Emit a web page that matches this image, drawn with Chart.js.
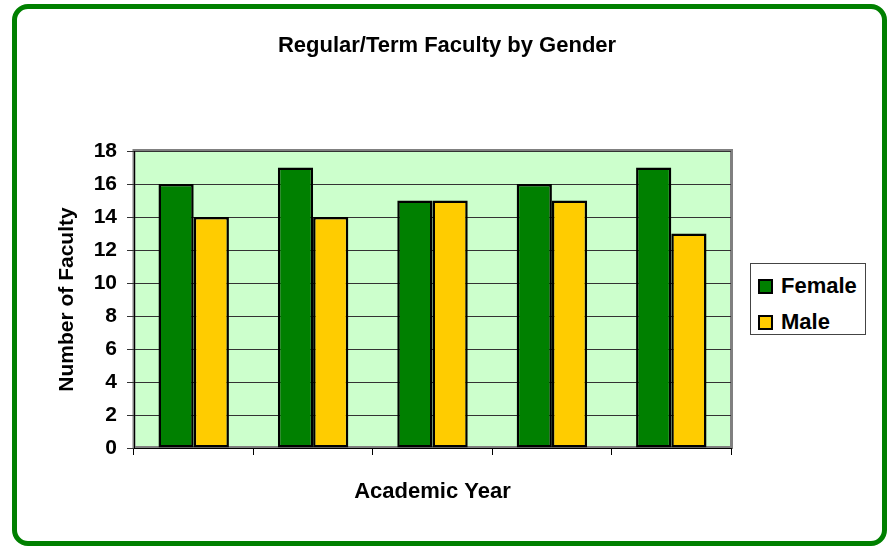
<!DOCTYPE html>
<html>
<head>
<meta charset="utf-8">
<script src="https://cdn.jsdelivr.net/npm/chart.js@4/dist/chart.umd.min.js"></script>
<style>
  html, body { margin: 0; padding: 0; background: #fff; }
  #wrap { position: relative; width: 888px; height: 548px; overflow: hidden; }
  #frame { position: absolute; left: 12px; top: 4px; width: 875px; height: 542px; box-sizing: border-box;
           border: 5px solid #008000; border-radius: 16px; }
  canvas { position: absolute; left: 0; top: 0; }
  #legend { position: absolute; left: 750px; top: 263px; width: 116px; height: 72px; box-sizing: border-box;
            border: 1px solid #444; background: #fff; font: bold 22px "Liberation Sans", Arial, sans-serif; color: #000; }
  .item { position: absolute; left: 7px; height: 24px; line-height: 24px; white-space: nowrap; }
  .sw { position: absolute; left: 0; top: 5px; width: 15px; height: 15px; box-sizing: border-box; border: 2px solid #000; }
  .lbl { position: absolute; left: 23px; top: 0; }
</style>
</head>
<body>
<div id="wrap">
  <div id="frame"></div>
  <canvas id="c" width="888" height="548"></canvas>
  <div id="legend"></div>
</div>
<script>
const chartTitle = 'Regular/Term Faculty by Gender';
const categories = ['Year 1', 'Year 2', 'Year 3', 'Year 4', 'Year 5'];
const seriesNames = ['Female', 'Male'];
const femaleValues = [16, 17, 15, 16, 17];
const maleValues = [14, 14, 15, 15, 13];
const seriesColors = ['#008000', '#FFCC00'];
const yTicks = [0, 2, 4, 6, 8, 10, 12, 14, 16, 18];

const FONT = '"Liberation Sans", Arial, sans-serif';

const plotBg = {
  id: 'plotBg',
  beforeDraw(chart) {
    const { ctx, chartArea: a } = chart;
    ctx.save();
    ctx.fillStyle = '#CCFFCC';
    ctx.fillRect(a.left, a.top, a.right - a.left, a.bottom - a.top);
    ctx.strokeStyle = '#808080';
    ctx.lineWidth = 3;
    ctx.strokeRect(a.left, a.top - 0.5, a.right - a.left + 0.5, a.bottom - a.top);
    ctx.restore();
  },
  afterDraw(chart) {
    const { ctx } = chart;
    ctx.save();
    ctx.fillStyle = '#000';
    ctx.font = 'bold 22px ' + FONT;
    ctx.textAlign = 'center';
    ctx.textBaseline = 'middle';
    ctx.fillText(chartTitle, 447, 46);
    ctx.restore();
  }
};

new Chart(document.getElementById('c'), {
  type: 'bar',
  data: {
    labels: categories,
    datasets: [
      { label: seriesNames[0], data: femaleValues, backgroundColor: seriesColors[0] },
      { label: seriesNames[1], data: maleValues, backgroundColor: seriesColors[1] }
    ].map(d => Object.assign(d, { borderColor: '#000', borderWidth: 2.5, borderSkipped: false,
                                  categoryPercentage: 0.59, barPercentage: 1.0 }))
  },
  options: {
    responsive: false,
    animation: false,
    devicePixelRatio: 1,
    layout: { padding: { left: 0, right: 157, top: 151, bottom: 0 } },
    plugins: {
      legend: { display: false },
      tooltip: { enabled: false },
      title: { display: false }
    },
    scales: {
      x: {
        offset: true,
        grid: { offset: true, drawOnChartArea: false, drawTicks: true, tickLength: 7, color: '#000' },
        border: { color: '#000', width: 1 },
        ticks: { display: false },
        title: {
          display: true, text: 'Academic Year', color: '#000',
          font: { family: FONT, size: 22, weight: 'bold', lineHeight: 1.2 },
          padding: { top: 0, bottom: 43 }
        },
        afterFit(s) { s.height = 100; }
      },
      y: {
        min: 0, max: 18,
        afterBuildTicks(s) { s.ticks = yTicks.map(v => ({ value: v })); },
        grid: { color: '#333', tickLength: 7, lineWidth: 1 },
        border: { color: '#000', width: 1 },
        ticks: { color: '#000', padding: 10, font: { family: FONT, size: 21, weight: 'bold' } },
        title: {
          display: true, text: 'Number of Faculty', color: '#000',
          font: { family: FONT, size: 21, weight: 'bold', lineHeight: 1.2 },
          padding: { top: 55, bottom: 0 }
        },
        afterFit(s) { s.width = 134; }
      }
    }
  },
  plugins: [plotBg]
});

const legend = document.getElementById('legend');
seriesNames.forEach((name, i) => {
  const it = document.createElement('div');
  it.className = 'item';
  it.style.top = (10 + i * 36) + 'px';
  const sw = document.createElement('div');
  sw.className = 'sw';
  sw.style.background = seriesColors[i];
  const lb = document.createElement('span');
  lb.className = 'lbl';
  lb.textContent = name;
  it.appendChild(sw); it.appendChild(lb);
  legend.appendChild(it);
});
</script>
</body>
</html>
